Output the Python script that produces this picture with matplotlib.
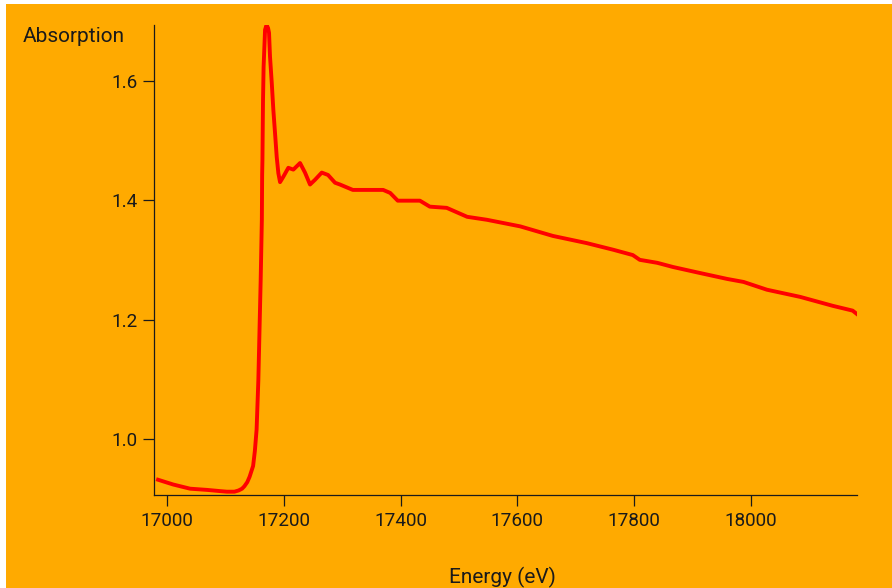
import matplotlib
matplotlib.use("Agg")
import matplotlib.pyplot as plt
from matplotlib.patches import Rectangle

plt.rcParams['font.family'] = ['Roboto', 'DejaVu Sans']

# XAS spectrum: energy (eV) vs absorption
energy = [16984, 17010, 17039, 17068, 17090, 17102, 17115, 17122, 17128, 17132,
          17137, 17141, 17144, 17147, 17150, 17153, 17156, 17158, 17160, 17162,
          17162.5, 17163, 17164, 17165, 17167.5, 17170, 17172.6, 17174.3, 17176, 17179,
          17181.7, 17184.6, 17187.5, 17190.3, 17193.2, 17198.8, 17207.4, 17216, 17227.5, 17236,
          17244.6, 17253.2, 17264.7, 17275.5, 17287.5, 17296, 17318, 17370, 17382, 17395,
          17433, 17450, 17479, 17514, 17548, 17605, 17661, 17719, 17764, 17798,
          17810, 17840, 17867, 17913, 17960, 17988, 18028, 18085, 18141, 18175, 18184]
absorption = [0.932, 0.924, 0.917, 0.915, 0.913, 0.912, 0.912, 0.914, 0.917, 0.921,
              0.928, 0.937, 0.946, 0.955, 0.980, 1.016, 1.099, 1.183, 1.267, 1.367,
              1.442, 1.467, 1.568, 1.623, 1.685, 1.693, 1.688, 1.680, 1.640, 1.596,
              1.551, 1.512, 1.472, 1.445, 1.430, 1.439, 1.454, 1.451, 1.462, 1.446,
              1.426, 1.434, 1.446, 1.442, 1.429, 1.426, 1.417, 1.417, 1.412, 1.399,
              1.399, 1.389, 1.387, 1.372, 1.367, 1.356, 1.340, 1.328, 1.317, 1.308,
              1.300, 1.295, 1.288, 1.278, 1.268, 1.263, 1.250, 1.238, 1.223, 1.215, 1.208]

x_ticks = [17000, 17200, 17400, 17600, 17800, 18000]
y_ticks = [1.0, 1.2, 1.4, 1.6]

bg = '#FFAA00'
ink = '#1a1a1a'

fig = plt.figure(figsize=(8.92, 5.88), dpi=100)
fig.patch.set_facecolor('white')
fig.patches.append(Rectangle((6 / 892, 0), 1 - 6 / 892, 1 - 4 / 588,
                             transform=fig.transFigure, facecolor=bg,
                             edgecolor='none', zorder=-1))

ax = fig.add_axes([0.1726, 0.1577, 0.9611 - 0.1726, 0.9575 - 0.1577])
ax.set_facecolor(bg)
ax.plot(energy, absorption, color='#FF0000', lw=2.8, solid_joinstyle='round')

ax.set_xlim(16977, 18183)
ax.set_ylim(0.906, 1.693)
ax.set_xticks(x_ticks)
ax.set_yticks(y_ticks)
ax.set_yticklabels(['%.1f' % v for v in y_ticks])

for s in ['top', 'right']:
    ax.spines[s].set_visible(False)
for s in ['left', 'bottom']:
    ax.spines[s].set_color(ink)
    ax.spines[s].set_linewidth(0.9)
ax.tick_params(direction='out', length=8, width=0.9, color=ink,
               labelcolor=ink, labelsize=13.6)
ax.tick_params(axis='x', pad=4)
ax.tick_params(axis='y', pad=3.5)

fig.text(23 / 892, 1 - 36 / 588, 'Absorption', fontsize=15, color=ink,
         ha='left', va='center')
fig.text(502 / 892, 1 - 577 / 588, 'Energy (eV)', fontsize=15, color=ink,
         ha='center', va='center')

fig.savefig('out.png', dpi=100)
